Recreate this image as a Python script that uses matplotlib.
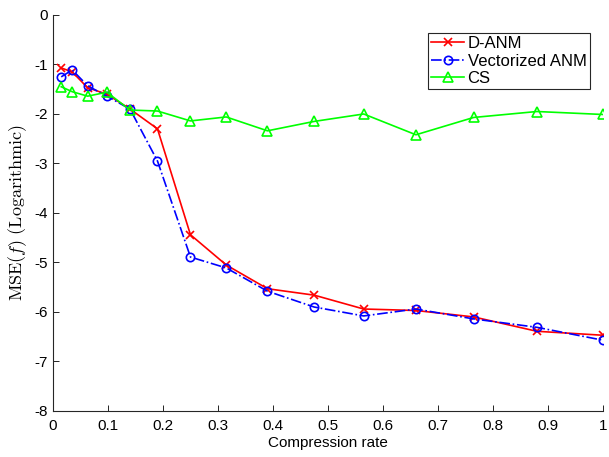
import matplotlib
matplotlib.use('Agg')
import matplotlib.pyplot as plt

# compression rates (x) and log MSE for each method
rate = [0.015, 0.035, 0.063, 0.098, 0.14, 0.19, 0.25, 0.315, 0.39, 0.475,
        0.565, 0.66, 0.765, 0.88, 1.0]
danm = [-1.07, -1.15, -1.47, -1.60, -1.90, -2.30, -4.44, -5.05, -5.53, -5.66,
        -5.94, -5.97, -6.10, -6.39, -6.47]
vanm = [-1.25, -1.11, -1.43, -1.64, -1.90, -2.95, -4.89, -5.11, -5.58, -5.90,
        -6.08, -5.94, -6.14, -6.31, -6.57]
cs = [-1.45, -1.55, -1.64, -1.56, -1.92, -1.94, -2.14, -2.06, -2.34, -2.15,
      -2.00, -2.42, -2.07, -1.95, -2.01]

plt.rcParams['mathtext.fontset'] = 'cm'
plt.rcParams['font.family'] = 'Liberation Sans'
plt.rcParams['axes.unicode_minus'] = False

fig = plt.figure(figsize=(6.09, 4.57), dpi=100)
ax = fig.add_axes([0.087, 0.1007, 0.903, 0.8665])

ax.plot(rate, danm, '-x', color='#ff0000', lw=1.2, ms=6, mew=1.2, label='D-ANM')
ax.plot(rate, vanm, '-.o', color='#0000ff', lw=1.2, ms=6, mfc='none', mew=1.2,
        label='Vectorized ANM')
ax.plot(rate, cs, '-^', color='#00ff00', lw=1.2, ms=7, mfc='none', mew=1.2, label='CS')

ax.set_xlim(0, 1)
ax.set_ylim(-8, 0)
ax.set_xticks([i / 10 for i in range(11)])
ax.set_xticklabels(['0', '0.1', '0.2', '0.3', '0.4', '0.5', '0.6', '0.7', '0.8', '0.9', '1'])
ax.set_yticks(range(-8, 1))
ax.tick_params(direction='in', labelsize=11, length=4, width=0.6)
ax.tick_params(axis='x', pad=6)
ax.spines['top'].set_visible(False)
ax.spines['right'].set_visible(False)
for s in ['left', 'bottom']:
    ax.spines[s].set_linewidth(0.8)
    ax.spines[s].set_color('#262626')

ax.set_xlabel('Compression rate', fontsize=11, labelpad=2)
ax.set_ylabel(r'$\mathrm{MSE}(f)\ (\mathrm{Logarithmic})$', fontsize=13, labelpad=4)

leg = ax.legend(loc='upper right', bbox_to_anchor=(0.976, 0.955), fontsize=12,
                frameon=True, fancybox=False, edgecolor='#262626', framealpha=1,
                handlelength=2.0, handletextpad=0.2, borderpad=0.2, labelspacing=0.15,
                borderaxespad=0)
leg.get_frame().set_linewidth(0.8)

fig.savefig('out.png', dpi=100)
